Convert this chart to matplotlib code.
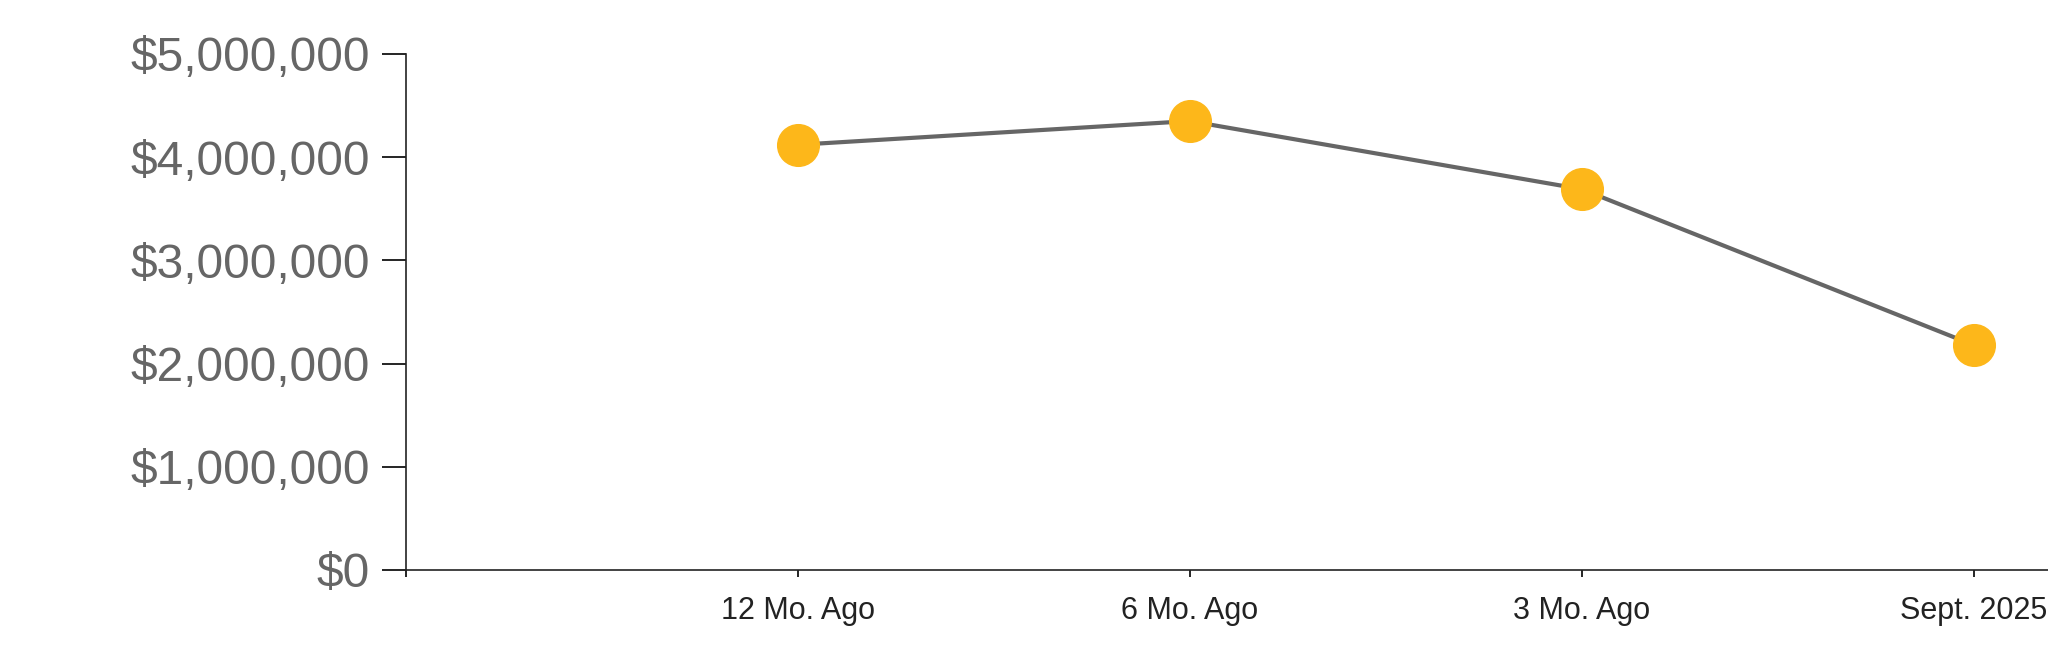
import matplotlib
matplotlib.use("Agg")
import matplotlib.pyplot as plt
from matplotlib.ticker import FuncFormatter

# chart data
periods = ["12 Mo. Ago", "6 Mo. Ago", "3 Mo. Ago", "Sept. 2025"]
values = [4120000, 4350000, 3690000, 2180000]
y_ticks = [0, 1000000, 2000000, 3000000, 4000000, 5000000]

plt.rcParams["font.family"] = ["Liberation Sans", "DejaVu Sans"]

fig = plt.figure(figsize=(20.48, 6.63), dpi=100)
ax = fig.add_axes([0.1982, 0.1403, 0.8018, 0.7783])

xs = list(range(1, len(periods) + 1))
ax.plot(xs, values, color="#666666", lw=3.0, zorder=2, solid_capstyle="butt")
ax.plot(xs, values, ls="none", marker="o", ms=30, mfc="#FDB71A", mec="#FDB71A", zorder=3)

ax.set_xlim(0, 4.19)
ax.set_ylim(0, 5000000)

ax.set_yticks(y_ticks)
ax.yaxis.set_major_formatter(FuncFormatter(lambda v, p: "${:,.0f}".format(v)))
ax.tick_params(axis="y", length=17, width=1.2, pad=9, labelsize=34.5, labelcolor="#666666")

ax.set_xticks([0] + xs)
ax.set_xticklabels([""] + periods)
ax.tick_params(axis="x", length=5, width=1.2, pad=14, labelsize=22, labelcolor="#222222")

for side in ["top", "right"]:
    ax.spines[side].set_visible(False)
for side in ["left", "bottom"]:
    ax.spines[side].set_linewidth(1.2)
    ax.spines[side].set_color("#222222")

fig.savefig("out.png", dpi=100)
